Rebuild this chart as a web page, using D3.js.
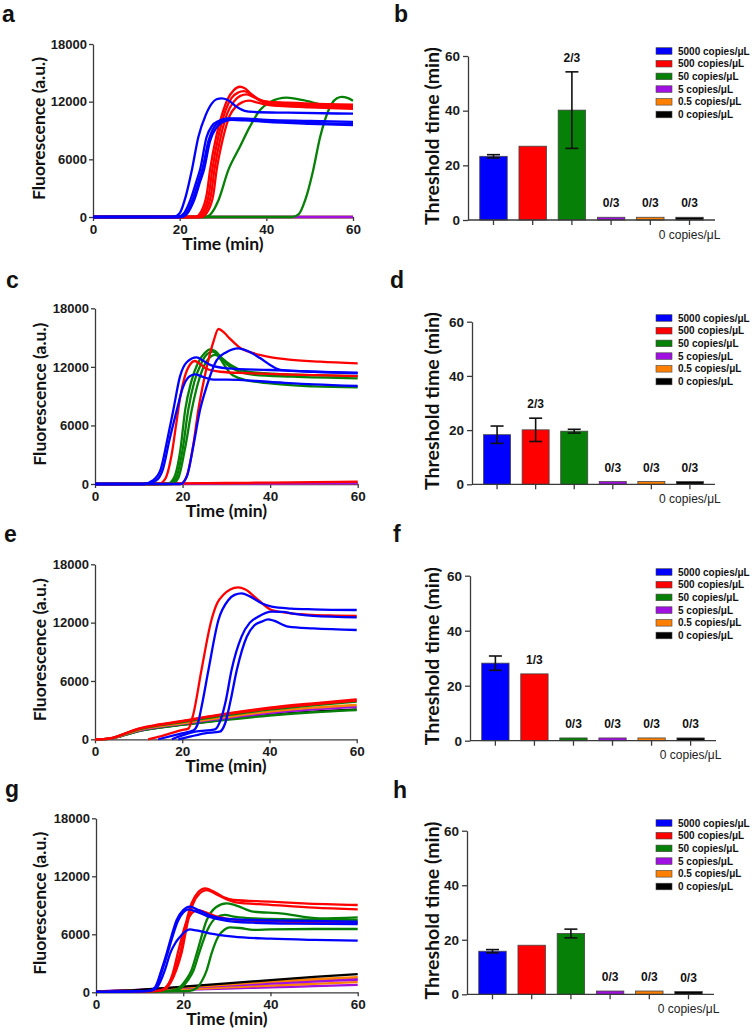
<!DOCTYPE html>
<html><head><meta charset="utf-8">
<script src="https://cdn.jsdelivr.net/npm/d3@7"></script>
<style>
body{margin:0;background:#fff;}
svg{display:block;}
text{font-family:"Liberation Sans",Arial,sans-serif;}
</style></head><body>
<svg id="chart" width="752" height="1035"></svg>
<script>
// ---------- DATA ----------
const categories = ["5000 copies/\u03bcL","500 copies/\u03bcL","50 copies/\u03bcL","5 copies/\u03bcL","0.5 copies/\u03bcL","0 copies/\u03bcL"];
const seriesKeys = ["5000","500","50","5","0.5","0"];
const timeTicks = [0,20,40,60];
const fluorTicks = [0,6000,12000,18000];
const thresholdTicks = [0,20,40,60];

// panel b
const thresholdB = [23.3, 27.0, 40.2, 1, 1, 1];
const errB = [0.6, 0, 14.0, 0, 0, 0];
const labelsB = ["", "", "2/3", "0/3", "0/3", "0/3"];
// panel d
const thresholdD = [18.3, 20.1, 19.6, 1, 1, 1];
const errD = [3.2, 4.3, 0.7, 0, 0, 0];
const labelsD = ["", "2/3", "", "0/3", "0/3", "0/3"];
// panel f
const thresholdF = [28.2, 24.3, 1, 1, 1, 1];
const errF = [2.6, 0, 0, 0, 0, 0];
const labelsF = ["", "1/3", "0/3", "0/3", "0/3", "0/3"];
// panel h
const thresholdH = [15.8, 18.0, 22.3, 1.2, 1.2, 1];
const errH = [0.6, 0, 1.6, 0, 0, 0];
const labelsH = ["", "", "", "0/3", "0/3", "0/3"];

// panel a curves [time(min), fluorescence]
const blueA1 = [[0,0],[18.5,0],[20,400],[21.5,2300],[22.8,4850],[24.3,8300],[26,10600],[27.4,11800],[28.5,12250],[29.7,12350],[31,12200],[33.2,11450],[35,11050],[37,10930],[45,10850],[60,10750]];
const blueA2 = [[0,0],[19.5,0],[21,400],[22.5,1800],[24,3900],[24.7,4900],[26.2,8300],[27.5,9500],[29,10000],[31,10250],[34,10250],[40,10100],[50,10000],[60,9900]];
const blueA3 = [[0,0],[20,0],[21.5,400],[23,1800],[24.5,3900],[25.2,4900],[26.7,8000],[28,9400],[29.5,9950],[31.5,10200],[34,10150],[40,10000],[50,9800],[60,9700]];
const blueA4 = [[0,0],[20.3,0],[21.8,400],[23.3,1700],[24.8,3800],[25.6,4900],[27,7900],[28.5,9300],[30,9900],[32,10100],[35,10050],[40,9900],[50,9700],[60,9550]];
const redA1 = [[0,0],[23.5,0],[25,600],[26.3,2500],[27,4850],[28.5,8500],[30,11000],[31,12200],[32.5,13200],[33.9,13550],[35,13400],[36.5,12800],[38,12300],[40,12000],[45,11900],[50,11800],[60,11700]];
const redA2 = [[0,0],[24,0],[25.5,600],[26.8,2500],[27.5,4850],[29,8500],[30.5,11000],[32,12400],[33.5,12950],[34.8,13100],[36,12900],[38,12300],[40,12000],[45,11800],[50,11700],[60,11550]];
const redA3 = [[0,0],[24.5,0],[26,600],[27.3,2500],[28,4850],[29.5,8400],[31,10800],[32.5,12000],[34,12600],[35.5,12750],[37,12500],[39,12000],[42,11700],[50,11550],[60,11400]];
const redA4 = [[0,0],[25,0],[26.5,600],[27.8,2400],[28.5,4800],[30,8200],[31.5,10500],[33,11500],[34.5,11950],[36,12100],[38,11900],[40,11700],[45,11500],[50,11400],[60,11250]];
const greenA1 = [[0,0],[26,0],[27.5,500],[29,1800],[31.2,4850],[33.9,7300],[36.2,9400],[38.5,11100],[40.8,11950],[44.7,12420],[48.5,12150],[53.9,11600],[60,11450]];
const greenA2 = [[0,0],[46,0],[47.5,300],[49,1800],[50.8,4850],[52.4,8300],[53.5,10050],[55.1,11800],[56.3,12350],[57.4,12500],[58.7,12400],[60,12100]];
const flatA = [[0,0],[20,0],[40,0],[60,0]];

// panel c curves
const redC1 = [[0,0],[19.5,0],[20.9,750],[22.5,4150],[23.6,7600],[25,10900],[25.9,12700],[27,14500],[28.2,15880],[29.5,15500],[30.8,14900],[33,14000],[36.2,13400],[40,13000],[43.8,12770],[51.4,12530],[60,12360]];
const redC2 = [[0,0],[14.5,0],[16,500],[17.5,3000],[18.5,6000],[19.5,9000],[20.5,11000],[21.8,12300],[22.8,12600],[24,12300],[25.5,11800],[28.6,11500],[35,11350],[45,11200],[60,11050]];
const redC3 = [[0,0],[10,20],[20,60],[30,100],[40,150],[50,190],[60,240]];
const greenC1 = [[0,0],[16.5,0],[18,600],[19.5,3500],[20.6,7600],[22,10500],[23.5,12400],[25,13400],[26.3,13800],[27.5,13600],[29,12900],[31,12200],[34,11600],[40,11300],[50,11150],[60,11060]];
const greenC2 = [[0,0],[17,0],[18.5,600],[20,3500],[21.3,7600],[22.7,10500],[24.2,12300],[25.6,13300],[26.9,13560],[28,13200],[29.5,12200],[31,11300],[34,10700],[40,10300],[50,10000],[60,9900]];
const greenC3 = [[0,0],[17.5,0],[19,600],[20.5,3500],[22.1,7600],[23.5,10300],[25,12200],[26.3,13000],[27.4,13220],[28.5,13000],[30,12300],[32,11700],[36,11200],[45,11000],[60,10830]];
const blueC1 = [[0,0],[11,0],[13.3,400],[15,1500],[16.5,4500],[17.9,7600],[19.4,11000],[21,12500],[23.2,12980],[24.8,12600],[26.3,12200],[30.1,11850],[40,11680],[50,11500],[60,11340]];
const blueC2 = [[0,0],[11.5,0],[13.8,300],[15.5,1500],[17,4500],[18.7,7600],[20,9800],[21.5,11000],[22.8,11240],[24.5,11000],[27,10700],[30,10700],[40,10450],[50,10200],[60,10040]];
const blueC3 = [[0,0],[19.5,0],[21,800],[22.5,4000],[24,7600],[25.5,10000],[27.8,12700],[30,13500],[32.7,13900],[35,13600],[37.7,12900],[40,12200],[42.3,11700],[50,11500],[60,11410]];
const flatC = [[0,0],[20,20],[40,40],[60,60]];

// panel e curves
const redE1 = [[12.2,0],[15,300],[19.9,950],[21.4,1100],[22.5,2500],[24.4,7100],[26.7,12270],[28,14000],[29.4,14840],[31,15400],[32.8,15630],[34.5,15400],[37.4,14330],[40.5,13300],[45,12950],[49.7,12790],[55,12720],[60,12680]];
const blueE1 = [[14.5,0],[19.9,600],[22.5,890],[23.5,1500],[24.5,3500],[26,7100],[28.3,12270],[30.6,14330],[32,14850],[33.6,15010],[35.5,14700],[38.2,13990],[40.5,13640],[45,13450],[50,13370],[60,13300]];
const blueE2 = [[17.6,0],[20,400],[22.9,780],[27.5,1020],[28.8,2000],[30,4000],[31.3,7100],[33.6,10560],[35.5,12000],[37.4,12610],[40.5,13130],[43,13100],[45.8,12900],[50,12700],[60,12550]];
const blueE3 = [[19.1,0],[22,300],[25.2,610],[28.6,780],[29.8,1600],[31,3800],[32.5,7100],[34.8,10550],[36.5,11700],[38.2,12100],[39.7,12340],[41,12200],[44.3,11590],[50,11400],[60,11240]];
const redE2 = [[0,0],[2,20],[4,150],[6,450],[8,800],[10,1100],[15,1550],[20,1900],[30,2650],[40,3250],[50,3700],[60,4100]];
const redE3 = [[0,0],[2,18],[4,140],[6,440],[8,780],[10,1070],[15,1500],[20,1850],[30,2580],[40,3150],[50,3600],[60,3980]];
const greenE1 = [[0,0],[2,15],[4,130],[6,420],[8,750],[10,1030],[15,1450],[20,1780],[30,2450],[40,3050],[50,3500],[60,3870]];
const greenE2 = [[0,0],[2,10],[4,90],[6,320],[8,590],[10,840],[15,1200],[20,1480],[30,2000],[40,2450],[50,2780],[60,3000]];
const orangeE = [[0,0],[2,10],[4,110],[6,380],[8,680],[10,950],[15,1350],[20,1650],[30,2280],[40,2850],[50,3250],[60,3530]];
const purpleE = [[0,0],[2,10],[4,100],[6,360],[8,650],[10,900],[15,1300],[20,1580],[30,2180],[40,2700],[50,3080],[60,3350]];
const blackE = [[0,0],[2,10],[4,90],[6,330],[8,600],[10,850],[15,1220],[20,1500],[30,2050],[40,2520],[50,2850],[60,3080]];

// panel g curves
const redG1 = [[0,50],[14,150],[15.4,300],[16.8,1000],[18.1,2300],[19.3,4030],[20.8,7480],[21.9,9200],[23.5,10400],[25,10760],[27.7,10240],[29.5,9800],[31.5,9550],[39.9,9380],[47.5,9200],[60,9030]];
const redG2 = [[0,50],[14.3,150],[15.7,300],[17.1,1000],[18.4,2300],[19.6,4030],[21.1,7400],[22.2,9100],[23.8,10250],[25.3,10580],[28,10050],[30,9600],[32,9300],[40,9050],[50,8750],[60,8580]];
const redG3 = [[0,50],[14.5,150],[16,400],[17.5,1800],[19,4500],[20.5,7000],[22,8200],[23.2,8500],[25,8300],[28,7800],[32,7500],[40,7350],[50,7250],[60,7200]];
const blueG1 = [[0,50],[12,150],[13.5,500],[15,2300],[16.2,4030],[17.3,5800],[18.5,7480],[20,8500],[21.5,8860],[23.5,8500],[26.9,7820],[30,7600],[36.1,7480],[45,7400],[60,7300]];
const blueG2 = [[0,50],[12.2,150],[13.7,500],[15.2,2300],[16.4,4030],[17.5,5700],[18.7,7300],[20,8250],[21.2,8580],[23,8350],[26,7800],[30,7400],[36,7200],[45,7100],[60,7065]];
const blueG3 = [[0,50],[12.5,150],[14,500],[15.8,2300],[17,4030],[18.2,5100],[19.3,5750],[20.5,6300],[21.5,6510],[23,6400],[26,6100],[31.5,5760],[40,5550],[50,5420],[60,5340]];
const greenG1 = [[0,50],[17,150],[18.5,300],[20.5,1200],[21.9,2300],[23.1,4030],[25.4,7480],[27.5,8800],[29.9,9200],[32,9000],[36.1,8340],[42.2,8170],[51.3,7650],[60,7750]];
const greenG2 = [[0,50],[17.5,150],[19,300],[21,1200],[22.4,2300],[23.6,4000],[25.6,6500],[27.5,7700],[29.5,8000],[32,7800],[36,7650],[45,7550],[60,7480]];
const greenG3 = [[0,50],[21.5,150],[23,400],[24.3,1200],[25.4,2300],[26.5,4030],[28,5750],[29.5,6500],[30.7,6720],[33,6650],[36.1,6450],[40,6500],[50,6550],[60,6550]];
const blackG = [[0,80],[10,250],[20,580],[30,920],[40,1270],[50,1600],[60,1890]];
const orangeG1 = [[0,80],[10,230],[20,500],[30,800],[40,1100],[50,1350],[60,1560]];
const orangeG2 = [[0,60],[10,150],[20,300],[30,500],[40,700],[50,880],[60,1050]];
const purpleG1 = [[0,80],[10,260],[20,520],[30,780],[40,1000],[50,1220],[60,1420]];
const purpleG2 = [[0,80],[10,240],[20,470],[30,700],[40,900],[50,1100],[60,1300]];
const purpleG3 = [[0,60],[10,150],[20,260],[30,390],[40,510],[50,640],[60,760]];

const curvesA = [
  {s:"0",pts:flatA},{s:"0.5",pts:flatA},{s:"5",pts:flatA},
  {s:"50",pts:greenA1},{s:"50",pts:greenA2},
  {s:"500",pts:redA1},{s:"500",pts:redA2},{s:"500",pts:redA3},{s:"500",pts:redA4},
  {s:"5000",pts:blueA1},{s:"5000",pts:blueA2},{s:"5000",pts:blueA3},{s:"5000",pts:blueA4}
];
const curvesC = [
  {s:"0",pts:flatC},{s:"0.5",pts:flatC},{s:"5",pts:flatC},
  {s:"500",pts:redC3},
  {s:"50",pts:greenC1},{s:"50",pts:greenC2},{s:"50",pts:greenC3},
  {s:"500",pts:redC1},{s:"500",pts:redC2},
  {s:"5000",pts:blueC1},{s:"5000",pts:blueC2},{s:"5000",pts:blueC3}
];
const curvesE = [
  {s:"0",pts:blackE},{s:"50",pts:greenE2},{s:"5",pts:purpleE},{s:"0.5",pts:orangeE},
  {s:"50",pts:greenE1},{s:"500",pts:redE3},{s:"500",pts:redE2},
  {s:"500",pts:redE1},
  {s:"5000",pts:blueE1},{s:"5000",pts:blueE2},{s:"5000",pts:blueE3}
];
const curvesG = [
  {s:"5",pts:purpleG3},{s:"0.5",pts:orangeG2},{s:"5",pts:purpleG2},{s:"5",pts:purpleG1},
  {s:"0.5",pts:orangeG1},{s:"0",pts:blackG},
  {s:"50",pts:greenG1},{s:"50",pts:greenG2},{s:"50",pts:greenG3},
  {s:"500",pts:redG1},{s:"500",pts:redG2},{s:"500",pts:redG3},
  {s:"5000",pts:blueG1},{s:"5000",pts:blueG2},{s:"5000",pts:blueG3}
];

// ---------- DRAWING ----------
const svg = d3.select("#chart");
const seriesColor = {"5000":"#0000ff","500":"#ff0000","50":"#068006","5":"#a010e0","0.5":"#ff8000","0":"#000000"};
const AX = "#3a3a3a";
const TITLE_FONT = "Lato, 'Open Sans', sans-serif";

function styleAxis(g){
  g.select(".domain").attr("stroke",AX).attr("stroke-width",1.3);
  g.selectAll(".tick line").attr("stroke",AX).attr("stroke-width",1.3);
  g.selectAll(".tick text").attr("fill","#1a1a1a").style("font-family","'Liberation Sans',Arial,sans-serif");
}

function panelLetter(letter, x, y){
  svg.append("text").attr("x",x).attr("y",y).text(letter)
    .style("font-family","'Liberation Sans',Arial,sans-serif").style("font-weight","bold").style("font-size","23px").attr("fill","#111");
}

function linePanel(lay, curves){
  const x = d3.scaleLinear().domain([0,60]).range([lay.x0, lay.x1]);
  const y = d3.scaleLinear().domain([0,18000]).range([lay.yBot, lay.yTop]);
  const g = svg.append("g");
  const xa = g.append("g").attr("transform",`translate(0,${lay.yBot})`)
    .call(d3.axisBottom(x).tickValues(timeTicks).tickSize(4).tickPadding(3).tickSizeOuter(0));
  styleAxis(xa);
  xa.selectAll(".tick text").style("font-size","13.5px").style("font-weight","bold");
  const ya = g.append("g").attr("transform",`translate(${lay.x0},0)`)
    .call(d3.axisLeft(y).tickValues(fluorTicks).tickSize(4).tickPadding(2).tickSizeOuter(0).tickFormat(d3.format("d")));
  styleAxis(ya);
  ya.selectAll(".tick text").style("font-size","13px").style("font-weight","bold");
  const line = d3.line().x(d=>x(d[0])).y(d=>y(d[1])).curve(d3.curveMonotoneX);
  g.append("g").selectAll("path").data(curves).join("path")
    .attr("d", d=>line(d.pts)).attr("fill","none")
    .attr("stroke", d=>seriesColor[d.s]).attr("stroke-width",2.3).attr("stroke-linejoin","round");
  g.append("text").attr("x",(lay.x0+lay.x1)/2).attr("y",lay.yBot+33).attr("text-anchor","middle")
    .text("Time (min)").style("font-family",TITLE_FONT).style("font-weight","bold").style("font-size","17.5px").attr("fill","#111");
  g.append("text").attr("transform",`translate(${lay.labelX},${(lay.yTop+lay.yBot)/2-2}) rotate(-90)`)
    .attr("text-anchor","middle").attr("dy","0.35em")
    .text("Fluorescence (a.u.)").style("font-family",TITLE_FONT).style("font-weight","bold").style("font-size","17.5px").attr("fill","#111");
  panelLetter(lay.letter, lay.lx, lay.ly);
}

function barPanel(lay, values, errs, labels){
  const x = d3.scaleBand().domain(seriesKeys).range([lay.x0, lay.x1]).paddingInner(0.3).paddingOuter(0.3);
  const y = d3.scaleLinear().domain([0,60]).range([lay.yBot, lay.yTop]);
  const g = svg.append("g");
  const data = seriesKeys.map((k,i)=>({k, v:values[i], e:errs[i], lab:labels[i]}));
  g.append("g").selectAll("rect").data(data).join("rect")
    .attr("x", d=>x(d.k)).attr("width", x.bandwidth())
    .attr("y", d=>y(d.v)).attr("height", d=>y(0)-y(d.v))
    .attr("fill", d=>seriesColor[d.k]).attr("stroke","#444").attr("stroke-width",0.8);
  const eb = g.append("g").selectAll("g").data(data.filter(d=>d.e>0)).join("g");
  const cap = 6.5;
  eb.append("line").attr("x1",d=>x(d.k)+x.bandwidth()/2).attr("x2",d=>x(d.k)+x.bandwidth()/2)
    .attr("y1",d=>y(d.v-d.e)).attr("y2",d=>y(d.v+d.e));
  eb.append("line").attr("x1",d=>x(d.k)+x.bandwidth()/2-cap).attr("x2",d=>x(d.k)+x.bandwidth()/2+cap)
    .attr("y1",d=>y(d.v+d.e)).attr("y2",d=>y(d.v+d.e));
  eb.append("line").attr("x1",d=>x(d.k)+x.bandwidth()/2-cap).attr("x2",d=>x(d.k)+x.bandwidth()/2+cap)
    .attr("y1",d=>y(d.v-d.e)).attr("y2",d=>y(d.v-d.e));
  eb.selectAll("line").attr("stroke","#111").attr("stroke-width",1.6);
  g.append("g").selectAll("text").data(data.filter(d=>d.lab)).join("text")
    .attr("x", d=>x(d.k)+x.bandwidth()/2).attr("y", d=>y(d.v+d.e)-10).attr("text-anchor","middle")
    .text(d=>d.lab).style("font-size","12px").style("font-weight","bold").attr("fill","#111");
  const xa = g.append("g").attr("transform",`translate(0,${lay.yBot})`)
    .call(d3.axisBottom(x).tickSize(5).tickPadding(5).tickSizeOuter(0)
      .tickFormat((d,i)=> i===seriesKeys.length-1 ? categories[i] : ""));
  styleAxis(xa);
  xa.select(".domain").attr("d",`M${lay.x0},0H${lay.x1}`);
  xa.selectAll(".tick text").style("font-size","12px").attr("fill","#222");
  const ya = g.append("g").attr("transform",`translate(${lay.x0},0)`)
    .call(d3.axisLeft(y).tickValues(thresholdTicks).tickSize(5).tickPadding(3).tickSizeOuter(0));
  styleAxis(ya);
  ya.selectAll(".tick text").style("font-size","13.5px").style("font-weight","bold");
  g.append("text").attr("transform",`translate(432.5,${(lay.yTop+lay.yBot)/2-2}) rotate(-90)`)
    .attr("text-anchor","middle").attr("dy","0.35em")
    .text("Threshold time (min)").style("font-family",TITLE_FONT).style("font-weight","bold").style("font-size","19.5px").attr("fill","#111");
  // legend
  const lg = g.append("g").attr("transform",`translate(656,${lay.legY})`);
  const rows = lg.selectAll("g").data(seriesKeys).join("g").attr("transform",(d,i)=>`translate(0,${i*12.7})`);
  rows.append("rect").attr("x",0).attr("y",-3.3).attr("width",16).attr("height",6.6)
    .attr("fill",d=>seriesColor[d]).attr("stroke","#444").attr("stroke-width",0.6);
  rows.append("text").attr("x",22).attr("dy","0.35em").text((d,i)=>categories[i])
    .style("font-size","10px").style("font-weight","bold").attr("fill","#111");
  panelLetter(lay.letter, lay.lx, lay.ly);
}

linePanel({x0:93,x1:353,yTop:44,yBot:217,labelX:39,letter:"a",lx:2,ly:22}, curvesA);
linePanel({x0:95,x1:357.7,yTop:308.3,yBot:484,labelX:40,letter:"c",lx:6,ly:288}, curvesC);
linePanel({x0:95,x1:356.7,yTop:564.3,yBot:739.3,labelX:39.5,letter:"e",lx:4,ly:542}, curvesE);
linePanel({x0:96,x1:357.7,yTop:818.3,yBot:992.3,labelX:40,letter:"g",lx:5,ly:797}, curvesG);

barPanel({x0:468,x1:715,yTop:56,yBot:220,legY:51,letter:"b",lx:394,ly:22}, thresholdB, errB, labelsB);
barPanel({x0:472,x1:715,yTop:321.7,yBot:484.3,legY:318,letter:"d",lx:390,ly:288}, thresholdD, errD, labelsD);
barPanel({x0:470,x1:716,yTop:575.7,yBot:740.7,legY:572,letter:"f",lx:393,ly:542}, thresholdF, errF, labelsF);
barPanel({x0:467,x1:714,yTop:830.7,yBot:994.3,legY:823,letter:"h",lx:393,ly:798}, thresholdH, errH, labelsH);
</script>
</body></html>
